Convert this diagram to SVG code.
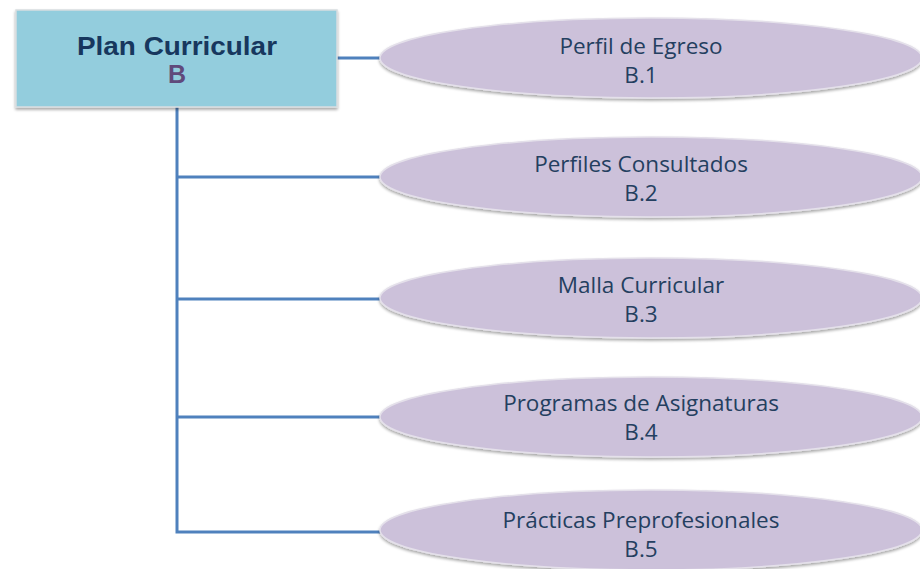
<svg xmlns="http://www.w3.org/2000/svg" width="920" height="569" viewBox="0 0 920 569">
  <defs>
    <filter id="sh" x="-10%" y="-20%" width="120%" height="150%">
      <feGaussianBlur in="SourceAlpha" stdDeviation="1.5"/>
      <feOffset dx="0" dy="2" result="b"/>
      <feComponentTransfer><feFuncA type="linear" slope="0.35"/></feComponentTransfer>
      <feMerge><feMergeNode/><feMergeNode in="SourceGraphic"/></feMerge>
    </filter>
  </defs>
  <style>
    .box { fill: #93CDDD; stroke: #D8DDE0; stroke-width: 1.5; }
    .ell { fill: #CCC1DA; stroke: #E4E0EA; stroke-width: 1.5; }
    .conn { fill: none; stroke: #4F81BD; stroke-width: 3; }
    .t1 { font-family: "Liberation Sans", Arial, sans-serif; font-weight: bold; font-size: 25px; fill: #17375E; text-anchor: middle; }
    .t2 { font-family: "Liberation Sans", Arial, sans-serif; font-weight: bold; font-size: 25px; fill: #604A7B; text-anchor: middle; }
    .te { font-family: "Open Sans", "Liberation Sans", sans-serif; font-size: 22.5px; fill: #243F60; text-anchor: middle; }
  </style>
  <rect width="920" height="569" fill="#ffffff"/>
  <g id="connectors">
    <path class="conn" d="M337 58 H381"/>
    <path class="conn" d="M177 107 V532 H381"/>
    <path class="conn" d="M177 177 H381"/>
    <path class="conn" d="M177 299 H381"/>
    <path class="conn" d="M177 417 H381"/>
  </g>
  <g id="node-B">
    <rect class="box" x="16" y="10" width="321" height="97" filter="url(#sh)"/>
    <text class="t1" x="177" y="55" textLength="200" lengthAdjust="spacingAndGlyphs">Plan Curricular</text>
    <text class="t2" x="177" y="83">B</text>
  </g>
  <g id="node-B1">
    <ellipse class="ell" cx="651" cy="58" rx="271" ry="40" filter="url(#sh)"/>
    <text class="te" x="641" y="54">Perfil de Egreso</text>
    <text class="te" x="641" y="83">B.1</text>
  </g>
  <g id="node-B2">
    <ellipse class="ell" cx="651" cy="177" rx="271" ry="40" filter="url(#sh)"/>
    <text class="te" x="641" y="172">Perfiles Consultados</text>
    <text class="te" x="641" y="201">B.2</text>
  </g>
  <g id="node-B3">
    <ellipse class="ell" cx="651" cy="298" rx="271" ry="40" filter="url(#sh)"/>
    <text class="te" x="641" y="293">Malla Curricular</text>
    <text class="te" x="641" y="322">B.3</text>
  </g>
  <g id="node-B4">
    <ellipse class="ell" cx="651" cy="417" rx="271" ry="40" filter="url(#sh)"/>
    <text class="te" x="641" y="411">Programas de Asignaturas</text>
    <text class="te" x="641" y="440">B.4</text>
  </g>
  <g id="node-B5">
    <ellipse class="ell" cx="651" cy="530" rx="271" ry="40" filter="url(#sh)"/>
    <text class="te" x="641" y="528">Prácticas Preprofesionales</text>
    <text class="te" x="641" y="557">B.5</text>
  </g>
</svg>
